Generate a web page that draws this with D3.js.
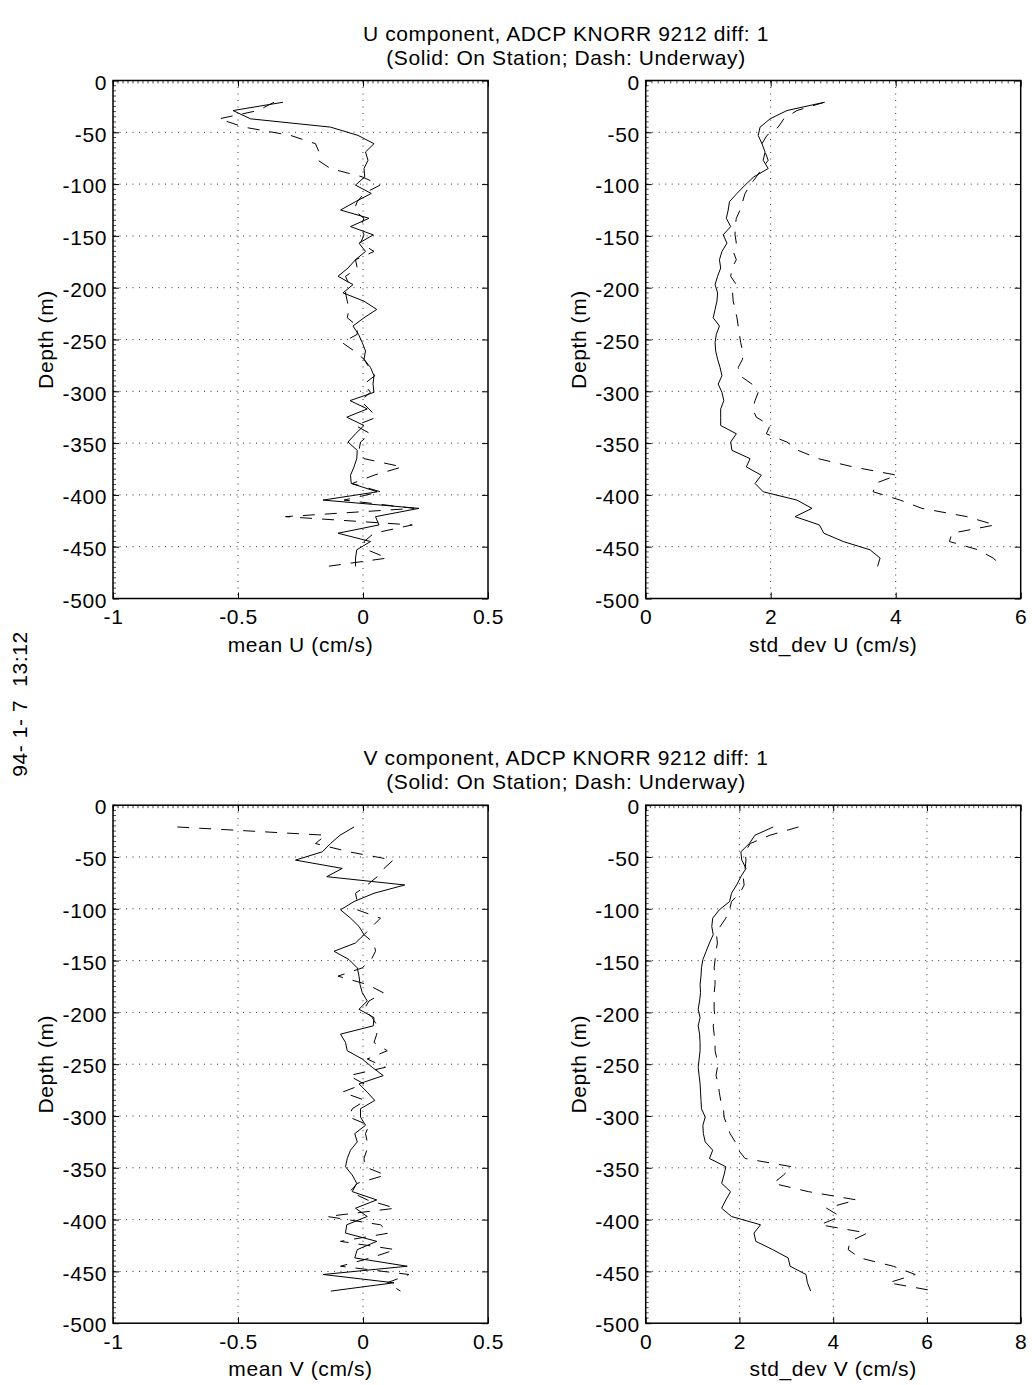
<!DOCTYPE html>
<html>
<head>
<meta charset="utf-8">
<script src="https://cdn.jsdelivr.net/npm/d3@7"></script>
<style>
body { margin: 0; background: #fff; }
text { font-family: "Liberation Sans", Arial, Helvetica, sans-serif; font-size: 21px; letter-spacing: 0.6px; fill: #000; }
</style>
</head>
<body>
<svg id="chart" width="1032" height="1385"></svg>
<script>
// depth bins (m), shared by all profiles
var depth = [-21, -29, -37, -45, -53, -61, -69, -77, -85, -93,
  -101, -109, -117, -125, -133, -141, -149, -157, -165, -173,
  -181, -189, -197, -205, -213, -221, -229, -237, -245, -253,
  -261, -269, -277, -285, -293, -301, -309, -317, -325, -333,
  -341, -349, -357, -365, -373, -381, -389, -397, -405, -413,
  -421, -429, -437, -445, -453, -461, -469];

// U component
var meanU_station = [-0.32, -0.52, -0.45, -0.13, -0.02, 0.044, 0.01, 0.02, 0.004, 0.007,
  -0.03, 0.033, -0.03, -0.09, 0.024, -0.05, 0.041, -0.016, 0.01, -0.03,
  -0.06, -0.10, -0.04, -0.08, 0.004, 0.055, 0.004, -0.04, -0.018, -0.003,
  0.01, 0.004, 0.03, 0.044, 0.04, 0.044, -0.052, 0.017, -0.065, 0.004,
  -0.03, -0.06, -0.023, -0.025, -0.036, -0.05, -0.047, 0.057, -0.16, 0.224,
  0.05, 0.064, -0.1, 0.03, -0.025, -0.03, -0.03];
var meanU_underway = [-0.356, -0.42, -0.576, -0.476, -0.29, -0.19, -0.176, -0.18, -0.13, -0.003,
  0.068, 0.004, -0.023, -0.036, 0.004, -0.01, 0.004, -0.01, 0.044, -0.03,
  -0.023, -0.07, -0.056, -0.07, -0.063, -0.056, -0.063, -0.023, -0.023, -0.083,
  -0.036, 0.004, 0.024, 0.047, 0.004, 0.03, -0.01, 0.024, 0.055, -0.03,
  0.03, -0.01, -0.016, 0.004, 0.157, 0.044, -0.043, 0.07, -0.076, 0.204,
  -0.31, 0.197, 0.044, 0.004, 0.017, 0.097, -0.143];
var stdU_station = [2.86, 2.26, 1.99, 1.83, 1.80, 1.86, 1.91, 1.88, 1.96, 1.73,
  1.59, 1.46, 1.34, 1.32, 1.29, 1.36, 1.24, 1.30, 1.22, 1.18,
  1.20, 1.15, 1.11, 1.15, 1.14, 1.11, 1.08, 1.18, 1.13, 1.11,
  1.12, 1.15, 1.19, 1.22, 1.16, 1.22, 1.25, 1.20, 1.20, 1.20,
  1.45, 1.36, 1.38, 1.67, 1.61, 1.85, 1.75, 1.88, 2.42, 2.66,
  2.39, 2.78, 2.85, 3.16, 3.59, 3.75, 3.71];
var stdU_underway = [2.86, 2.42, 2.21, 2.12, 1.94, 1.86, 1.91, 1.96, 1.86, 1.77,
  1.67, 1.59, 1.55, 1.51, 1.45, 1.43, 1.43, 1.45, 1.40, 1.45,
  1.38, 1.36, 1.45, 1.39, 1.40, 1.43, 1.46, 1.48, 1.50, 1.52,
  1.55, 1.55, 1.48, 1.51, 1.70, 1.80, 1.75, 1.71, 1.77, 1.99,
  1.93, 2.26, 2.44, 2.76, 3.32, 4.02, 3.67, 3.64, 4.07, 4.42,
  5.14, 5.59, 4.90, 4.86, 5.32, 5.56, 5.71];

// V component
var meanV_station = [-0.036, -0.092, -0.13, -0.163, -0.27, -0.083, -0.145, 0.167, 0.044, -0.036,
  -0.09, -0.05, -0.016, 0.004, -0.03, -0.116, -0.056, -0.023, -0.016, -0.012,
  -0.003, 0.017, -0.016, 0.044, 0.041, -0.09, -0.07, -0.063, -0.003, 0.037,
  0.081, -0.016, 0.017, 0.047, -0.01, -0.01, 0.01, -0.033, -0.023, -0.05,
  -0.063, -0.07, -0.043, -0.025, -0.043, 0.055, -0.03, 0.017, -0.065, -0.07,
  0.055, -0.023, -0.033, 0.177, -0.159, 0.124, -0.129];
var meanV_underway = [-0.743, -0.15, -0.19, -0.056, 0.121, 0.084, 0.057, 0.017, -0.03, -0.023,
  -0.023, 0.07, 0.037, 0.004, 0.044, 0.05, 0.033, -0.003, -0.1, 0.017,
  0.081, 0.024, 0.004, 0.037, 0.057, 0.055, 0.044, 0.097, 0.017, 0.09,
  -0.056, 0.004, -0.083, 0.01, -0.043, -0.056, 0.024, 0.01, 0.017, 0.015,
  0.004, 0.007, 0.09, -0.023, -0.052, 0.017, 0.13, -0.143, 0.07, 0.104,
  -0.09, 0.13, 0.03, -0.09, 0.184, 0.097, 0.15];
var stdV_station = [2.72, 2.33, 2.21, 2.03, 2.05, 2.14, 2.03, 1.94, 1.83, 1.79,
  1.57, 1.43, 1.41, 1.44, 1.36, 1.29, 1.22, 1.19, 1.18, 1.16,
  1.17, 1.15, 1.12, 1.16, 1.12, 1.15, 1.16, 1.16, 1.14, 1.12,
  1.14, 1.16, 1.17, 1.18, 1.19, 1.27, 1.22, 1.23, 1.27, 1.43,
  1.36, 1.71, 1.67, 1.62, 1.81, 1.71, 1.62, 1.83, 2.45, 2.31,
  2.35, 2.71, 3.04, 3.08, 3.42, 3.45, 3.52];
var stdV_underway = [3.26, 2.65, 2.23, 2.12, 2.14, 2.12, 2.08, 2.10, 2.01, 1.83,
  1.79, 1.71, 1.59, 1.51, 1.53, 1.50, 1.48, 1.46, 1.48, 1.48,
  1.46, 1.46, 1.46, 1.48, 1.44, 1.46, 1.48, 1.48, 1.52, 1.53,
  1.50, 1.55, 1.57, 1.60, 1.66, 1.67, 1.74, 1.80, 1.91, 1.98,
  2.12, 3.12, 2.94, 2.72, 3.47, 4.50, 3.86, 4.15, 3.72, 4.73,
  4.36, 4.32, 4.57, 5.28, 5.75, 5.18, 6.17];

// ticks
var depth_ticks = [0, -50, -100, -150, -200, -250, -300, -350, -400, -450, -500],
    mean_ticks = [-1, -0.5, 0, 0.5],
    stdU_ticks = [0, 2, 4, 6],
    stdV_ticks = [0, 2, 4, 6, 8];

// titles
var title_U = ['U component, ADCP KNORR 9212 diff: 1', '(Solid: On Station; Dash: Underway)'],
    title_V = ['V component, ADCP KNORR 9212 diff: 1', '(Solid: On Station; Dash: Underway)'],
    stamp = '94- 1- 7  13:12';

// layout
var plot_w = 375, plot_h = 518,
    left_a = 113, left_b = 645.7,
    top_U = 80.5, top_V = 805.2,
    title_x = 566;

var svg = d3.select('#chart');

var panels = [
  {left: left_a, top: top_U, domain: [-1, 0.5], ticks: mean_ticks, station: meanU_station, underway: meanU_underway, label: 'mean U (cm/s)'},
  {left: left_b, top: top_U, domain: [0, 6], ticks: stdU_ticks, station: stdU_station, underway: stdU_underway, label: 'std_dev U (cm/s)'},
  {left: left_a, top: top_V, domain: [-1, 0.5], ticks: mean_ticks, station: meanV_station, underway: meanV_underway, label: 'mean V (cm/s)'},
  {left: left_b, top: top_V, domain: [0, 8], ticks: stdV_ticks, station: stdV_station, underway: stdV_underway, label: 'std_dev V (cm/s)'}
];

function fmt(v) { return String(v); }

panels.forEach(function(p) {
  var x = d3.scaleLinear().domain(p.domain).range([0, plot_w]),
      y = d3.scaleLinear().domain([0, -500]).range([0, plot_h]);

  var g = svg.append('g').attr('transform', 'translate(' + p.left + ',' + p.top + ')');

  // dotted grid
  var grid = g.append('g').attr('class', 'grid');
  grid.selectAll('line.gx').data(p.ticks.slice(1, -1)).enter().append('line')
      .attr('x1', function(d) { return x(d); }).attr('x2', function(d) { return x(d); })
      .attr('y1', 0).attr('y2', plot_h);
  grid.selectAll('line.gy').data(depth_ticks.slice(1, -1)).enter().append('line')
      .attr('y1', function(d) { return y(d); }).attr('y2', function(d) { return y(d); })
      .attr('x1', 0).attr('x2', plot_w);
  grid.selectAll('line').attr('stroke', '#000').attr('stroke-width', 1)
      .attr('stroke-dasharray', '1,5.5').attr('opacity', 0.8);

  // axes, ticks pointing inward
  var ax_b = g.append('g').attr('transform', 'translate(0,' + plot_h + ')')
      .call(d3.axisBottom(x).tickValues(p.ticks).tickFormat(fmt).tickSize(-6).tickPadding(10.5));
  var ax_l = g.append('g')
      .call(d3.axisLeft(y).tickValues(depth_ticks).tickFormat(fmt).tickSize(-6).tickPadding(6));
  var ax_t = g.append('g')
      .call(d3.axisTop(x).tickValues(p.ticks).tickFormat('').tickSize(-6));
  var ax_r = g.append('g').attr('transform', 'translate(' + plot_w + ',0)')
      .call(d3.axisRight(y).tickValues(depth_ticks).tickFormat('').tickSize(-6));
  [ax_b, ax_l, ax_t, ax_r].forEach(function(a) {
    a.select('.domain').remove();
    a.selectAll('line').attr('stroke', '#000').attr('stroke-width', 1);
    a.selectAll('text').style('font-family', null).attr('font-size', null).attr('font-family', null);
  });
  ax_l.selectAll('text').attr('dy', '0.32em').attr('y', 2);

  // small minor ticks on left and top edges
  var minor = g.append('g').attr('stroke', '#000').attr('stroke-width', 0.7);
  minor.selectAll('line.my').data(d3.range(0, -501, -5)).enter().append('line')
      .attr('x1', 0).attr('x2', 3)
      .attr('y1', function(d) { return y(d); }).attr('y2', function(d) { return y(d); });
  minor.selectAll('line.mx').data(x.ticks(75)).enter().append('line')
      .attr('y1', 0).attr('y2', 3)
      .attr('x1', function(d) { return x(d); }).attr('x2', function(d) { return x(d); });

  // profiles
  var line = d3.line().x(function(d) { return x(d[0]); }).y(function(d) { return y(d[1]); });
  g.append('path').datum(d3.zip(p.station, depth))
      .attr('fill', 'none').attr('stroke', '#000').attr('stroke-width', 1)
      .attr('d', line);
  g.append('path').datum(d3.zip(p.underway, depth))
      .attr('fill', 'none').attr('stroke', '#000').attr('stroke-width', 1)
      .attr('stroke-dasharray', '12,10')
      .attr('d', line);

  // box
  g.append('rect').attr('width', plot_w).attr('height', plot_h)
      .attr('fill', 'none').attr('stroke', '#000').attr('stroke-width', 1.5);

  // labels
  g.append('text').attr('x', plot_w / 2).attr('y', plot_h + 53)
      .attr('text-anchor', 'middle').text(p.label);
  g.append('text').attr('transform', 'translate(-60,' + (plot_h / 2) + ') rotate(-90)')
      .attr('text-anchor', 'middle').text('Depth (m)');
});

// titles
[[title_U, top_U], [title_V, top_V]].forEach(function(t) {
  svg.append('text').attr('x', title_x).attr('y', t[1] - 40)
      .attr('text-anchor', 'middle').text(t[0][0]);
  svg.append('text').attr('x', title_x).attr('y', t[1] - 16)
      .attr('text-anchor', 'middle').text(t[0][1]);
});

// date stamp on the left margin
svg.append('text').attr('transform', 'translate(27,704) rotate(-90)')
    .attr('text-anchor', 'middle').style('white-space', 'pre').text(stamp);
</script>
</body>
</html>
